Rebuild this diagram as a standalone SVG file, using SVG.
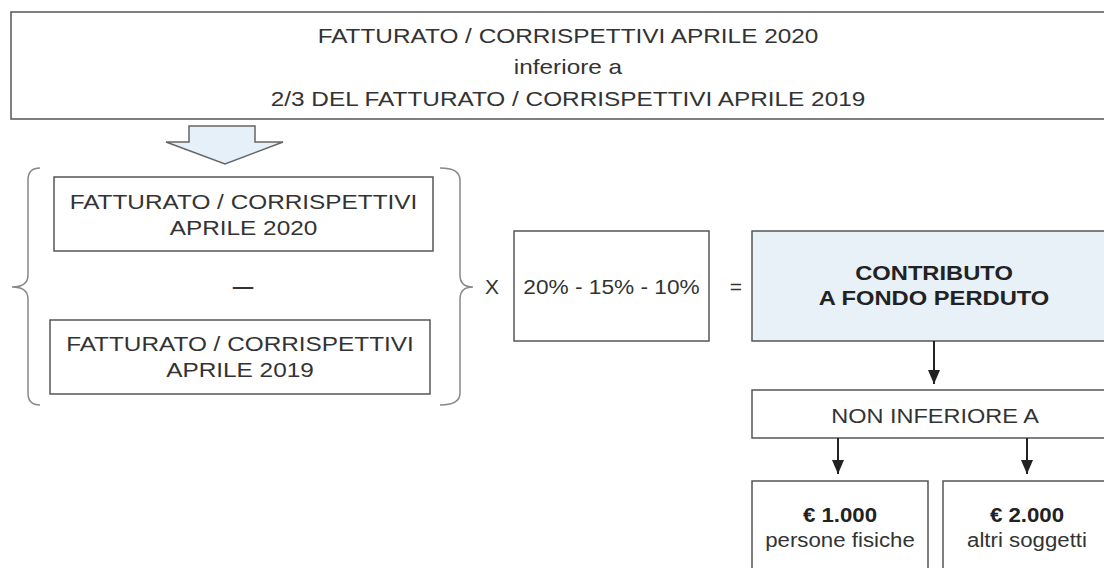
<svg xmlns="http://www.w3.org/2000/svg" width="1104" height="568" viewBox="0 0 1104 568">
<style>
  .box{fill:#ffffff;stroke:#555;stroke-width:1.5}
  .blue{fill:#e8f1f8;stroke:#555;stroke-width:1.5}
  .t{font-family:"Liberation Sans",Arial,sans-serif;font-size:21px;fill:#333;text-anchor:middle}
  .b{font-weight:bold;fill:#222}
  .brace{fill:none;stroke:#888;stroke-width:1.5}
  .conn{fill:none;stroke:#222;stroke-width:2}
</style>
<defs>
  <marker id="ah" viewBox="0 0 14 12" refX="14" refY="6" markerWidth="14" markerHeight="12" markerUnits="userSpaceOnUse" orient="auto">
    <path d="M0,0 L14,6 L0,12 Z" fill="#222"/>
  </marker>
</defs>
<rect width="1104" height="568" fill="#ffffff"/>

<g id="top">
  <rect class="box" x="11" y="12" width="1100" height="107"/>
  <text class="t" transform="translate(568,43) scale(1.16,1)">FATTURATO / CORRISPETTIVI APRILE 2020</text>
  <text class="t" transform="translate(568,74) scale(1.16,1)">inferiore a</text>
  <text class="t" transform="translate(568,106) scale(1.16,1)">2/3 DEL FATTURATO / CORRISPETTIVI APRILE 2019</text>
</g>

<g id="hollow-arrow">
  <polygon points="189,126 255,126 255,142 283,142 225,164 166,142 189,142" fill="#e6f0f8" stroke="#666" stroke-width="1.5"/>
</g>

<g id="braces">
  <path class="brace" d="M40,168 Q28,168 28,180 L28,275 Q28,287 12,287 Q28,287 28,299 L28,393 Q28,405 40,405"/>
  <path class="brace" d="M440,168 Q460,168 460,180 L460,275 Q460,287 473,287 Q460,287 460,299 L460,393 Q460,405 440,405"/>
</g>

<g id="apr2020">
  <rect class="box" x="54" y="177" width="379" height="74"/>
  <text class="t" transform="translate(243.5,209) scale(1.16,1)">FATTURATO / CORRISPETTIVI</text>
  <text class="t" transform="translate(243.5,235) scale(1.16,1)">APRILE 2020</text>
</g>

<g id="minus">
  <text class="t" transform="translate(243,296) scale(1.15,1)" style="font-size:32px">–</text>
</g>

<g id="apr2019">
  <rect class="box" x="50" y="320" width="380" height="74"/>
  <text class="t" transform="translate(240,351) scale(1.16,1)">FATTURATO / CORRISPETTIVI</text>
  <text class="t" transform="translate(240,377) scale(1.16,1)">APRILE 2019</text>
</g>

<g id="times">
  <text class="t" x="492" y="294">X</text>
</g>

<g id="percent">
  <rect class="box" x="514" y="231" width="195" height="110"/>
  <text class="t" transform="translate(611.5,294) scale(1.08,1)">20% - 15% - 10%</text>
</g>

<g id="equals">
  <text class="t" x="736" y="294">=</text>
</g>

<g id="contributo">
  <rect class="blue" x="752" y="231" width="360" height="110"/>
  <text class="t b" transform="translate(934,280) scale(1.13,1)">CONTRIBUTO</text>
  <text class="t b" transform="translate(934,305) scale(1.13,1)">A FONDO PERDUTO</text>
</g>

<g id="non-inferiore">
  <rect class="box" x="752" y="390" width="360" height="48"/>
  <text class="t" transform="translate(935,423) scale(1.12,1)">NON INFERIORE A</text>
</g>

<g id="euro1000">
  <rect class="box" x="752" y="481" width="176" height="100"/>
  <text class="t b" transform="translate(840,522) scale(1.06,1)">€ 1.000</text>
  <text class="t" transform="translate(840,547) scale(1.06,1)">persone fisiche</text>
</g>

<g id="euro2000">
  <rect class="box" x="943" y="481" width="170" height="100"/>
  <text class="t b" transform="translate(1027,522) scale(1.06,1)">€ 2.000</text>
  <text class="t" transform="translate(1027,547) scale(1.06,1)">altri soggetti</text>
</g>

<g id="connectors">
  <path class="conn" d="M934,341 L934,384" marker-end="url(#ah)"/>
  <path class="conn" d="M838,438 L838,474" marker-end="url(#ah)"/>
  <path class="conn" d="M1027,438 L1027,474" marker-end="url(#ah)"/>
</g>
</svg>
